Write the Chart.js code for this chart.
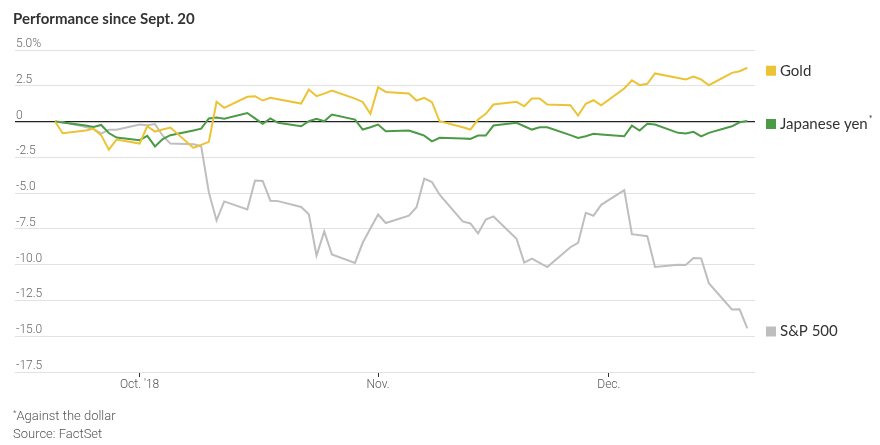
<!DOCTYPE html>
<html>
<head>
<meta charset="utf-8">
<script src="https://cdn.jsdelivr.net/npm/chart.js@4"></script>
<style>
	body { margin: 0; background: #fff; }
	#wrap { position: relative; width: 880px; height: 445px; overflow: hidden; }
	#myChart { position: absolute; left: 0; top: 0; }
	.title { position: absolute; left: 13px; top: 9px; font: bold 15px Lato, 'Noto Sans', sans-serif; color: #333; }
	.note { position: absolute; left: 13px; font: 300 13px Roboto, sans-serif; color: #555; }
	.note sup { font-size: 8px; }
</style>
</head>
<body>
<div id="wrap">
	<canvas id="myChart" width="880" height="445"></canvas>
	<div class="title">Performance since Sept. 20</div>
	<div class="note" style="top:408px"><sup>*</sup>Against the dollar</div>
	<div class="note" style="top:426px">Source: FactSet</div>
</div>
<script>
// trading days since Sept. 20 (Nov. 22 and Dec. 5 only for gold / yen)
var dates = ['2018-09-20','2018-09-21','2018-09-24','2018-09-25','2018-09-26','2018-09-27','2018-09-28',
	'2018-10-01','2018-10-02','2018-10-03','2018-10-04','2018-10-05','2018-10-08','2018-10-09','2018-10-10',
	'2018-10-11','2018-10-12','2018-10-15','2018-10-16','2018-10-17','2018-10-18','2018-10-19','2018-10-22',
	'2018-10-23','2018-10-24','2018-10-25','2018-10-26','2018-10-29','2018-10-30','2018-10-31',
	'2018-11-01','2018-11-02','2018-11-05','2018-11-06','2018-11-07','2018-11-08','2018-11-09','2018-11-12',
	'2018-11-13','2018-11-14','2018-11-15','2018-11-16','2018-11-19','2018-11-20','2018-11-21','2018-11-22',
	'2018-11-23','2018-11-26','2018-11-27','2018-11-28','2018-11-29','2018-11-30',
	'2018-12-03','2018-12-04','2018-12-05','2018-12-06','2018-12-07','2018-12-10','2018-12-11','2018-12-12',
	'2018-12-13','2018-12-14','2018-12-17','2018-12-18','2018-12-19'];

var gold = [0, -0.82, -0.62, -0.51, -0.95, -1.96, -1.26,
	-1.54, -0.33, -0.70, -0.55, -0.42, -1.84, -1.63, -1.42,
	1.38, 0.96, 1.73, 1.77, 1.47, 1.66, 1.56, 1.26,
	2.24, 1.77, 1.95, 2.17, 1.60, 1.37, 0.54,
	2.40, 2.07, 1.96, 1.47, 1.66, 1.35, 0.02, -0.40,
	-0.56, 0.14, 0.54, 1.19, 1.38, 1.07, 1.61, 1.61,
	1.19, 1.14, 0.42, 1.24, 1.49, 1.14,
	2.31, 2.89, 2.54, 2.64, 3.36, 3.05, 2.94, 3.15,
	2.94, 2.54, 3.40, 3.52, 3.76];

var yen = [0, -0.07, -0.27, -0.38, -0.24, -0.80, -1.12,
	-1.30, -1.00, -1.74, -1.22, -0.95, -0.62, -0.50, 0.22,
	0.28, 0.20, 0.60, 0.22, -0.16, 0.22, -0.09, -0.33,
	0.02, 0.19, 0.02, 0.49, 0.14, -0.56, -0.40,
	-0.21, -0.68, -0.63, -0.80, -0.98, -1.38, -1.14, -1.18,
	-1.21, -0.98, -0.98, -0.28, -0.09, -0.33, -0.56, -0.40,
	-0.40, -0.95, -1.14, -1.03, -0.86, -0.90,
	-1.03, -0.28, -0.63, -0.16, -0.21, -0.79, -0.84, -0.72,
	-1.03, -0.79, -0.33, -0.05, 0.04];

var sp500 = [0, -0.04, -0.39, -0.52, -0.85, -0.57, -0.57,
	-0.21, -0.25, -0.18, -0.99, -1.54, -1.58, -1.72, -4.95,
	-6.91, -5.58, -6.14, -4.12, -4.15, -5.53, -5.56, -5.97,
	-6.48, -9.37, -7.68, -9.28, -9.88, -8.47, -7.47,
	-6.50, -7.09, -6.57, -5.98, -3.99, -4.23, -5.11, -6.98,
	-7.12, -7.82, -6.84, -6.63, -8.19, -9.86, -9.58, null,
	-10.17, -8.78, -8.48, -6.38, -6.58, -5.82,
	-4.79, -7.87, null, -8.01, -10.16, -10.00, -10.03, -9.54,
	-9.56, -11.29, -13.13, -13.12, -14.46];

var tickDates = ['2018-10-01', '2018-11-01', '2018-12-01'];
var tickLabels = ["Oct. '18", 'Nov.', 'Dec.'];
var yTicks = [5, 2.5, 0, -2.5, -5, -7.5, -10, -12.5, -15, -17.5];

var start = Date.parse('2018-09-20');
function dayNum(d){
	return (Date.parse(d) - start) / 86400000;
}
function toPoints(values){
	return dates.map(function(d, i){ return {x: dayNum(d), y: values[i]}; });
}
var tickDays = tickDates.map(dayNum);

//labels at the end of each line
var endLabels = {
	id: 'endLabels',
	afterDatasetsDraw: function(chart){
		var ctx = chart.ctx;
		var yScale = chart.scales.y;
		var x0 = chart.chartArea.right + 11;
		ctx.save();
		chart.data.datasets.forEach(function(ds){
			var pts = ds.data.filter(function(p){ return p.y != null; });
			var py = yScale.getPixelForValue(pts[pts.length - 1].y) + 3;
			ctx.fillStyle = ds.borderColor;
			ctx.fillRect(x0, py - 5, 10, 10);
			ctx.fillStyle = '#333';
			ctx.font = '15px Lato, "Noto Sans", sans-serif';
			ctx.textBaseline = 'middle';
			ctx.textAlign = 'left';
			ctx.fillText(ds.label, x0 + 14, py);
			if(ds.note){
				var w = ctx.measureText(ds.label).width;
				ctx.font = '9px Lato, "Noto Sans", sans-serif';
				ctx.fillText(ds.note, x0 + 15 + w, py - 5);
			}
		});
		ctx.restore();
	}
};

var ctx = document.getElementById('myChart');
var myChart = new Chart(ctx, {
	type: 'line',
	data: {
		datasets: [{
			label: 'Gold',
			data: toPoints(gold),
			borderColor: '#ecc334',
			order: 0
		}, {
			label: 'Japanese yen',
			note: '*',
			data: toPoints(yen),
			borderColor: '#4b9a45',
			order: 1
		}, {
			label: 'S&P 500',
			data: toPoints(sp500),
			borderColor: '#bebebe',
			order: 2
		}]
	},
	options: {
		responsive: false,
		animation: false,
		spanGaps: true,
		elements: {
			line: { borderWidth: 2, tension: 0, fill: false },
			point: { radius: 0, hoverRadius: 0 }
		},
		layout: {
			padding: { left: 15, right: 125, top: 50, bottom: 43 }
		},
		plugins: {
			legend: { display: false },
			tooltip: { enabled: false }
		},
		scales: {
			x: {
				type: 'linear',
				min: -5.2,
				max: 91,
				afterBuildTicks: function(scale){
					scale.ticks = tickDays.map(function(v){ return {value: v}; });
				},
				afterFit: function(scale){
					scale.height = 30;
				},
				ticks: {
					autoSkip: false,
					maxRotation: 0,
					padding: 1,
					color: '#555',
					font: { family: 'Roboto', weight: 300, size: 12 },
					callback: function(value, index){
						return tickLabels[index];
					}
				},
				grid: {
					drawOnChartArea: false,
					drawTicks: true,
					tickLength: 5,
					color: '#333'
				},
				border: { display: false }
			},
			y: {
				min: -17.5,
				max: 5,
				afterBuildTicks: function(scale){
					scale.ticks = yTicks.map(function(v){ return {value: v}; });
				},
				afterFit: function(scale){
					scale.width = 0;
				},
				ticks: {
					mirror: true,
					padding: 1,
					labelOffset: -6,
					autoSkip: false,
					color: '#666',
					font: { family: 'Roboto', weight: 300, size: 12 },
					callback: function(value){
						if(value == 5) return '5.0%';
						if(value == 0) return '0';
						return value.toFixed(1);
					}
				},
				grid: {
					drawTicks: false,
					color: function(c){ return c.tick && c.tick.value == 0 ? '#222' : '#e2e2e2'; },
					lineWidth: function(c){ return c.tick && c.tick.value == 0 ? 1.2 : 1; }
				},
				border: { display: false }
			}
		}
	},
	plugins: [endLabels]
});
</script>
</body>
</html>
